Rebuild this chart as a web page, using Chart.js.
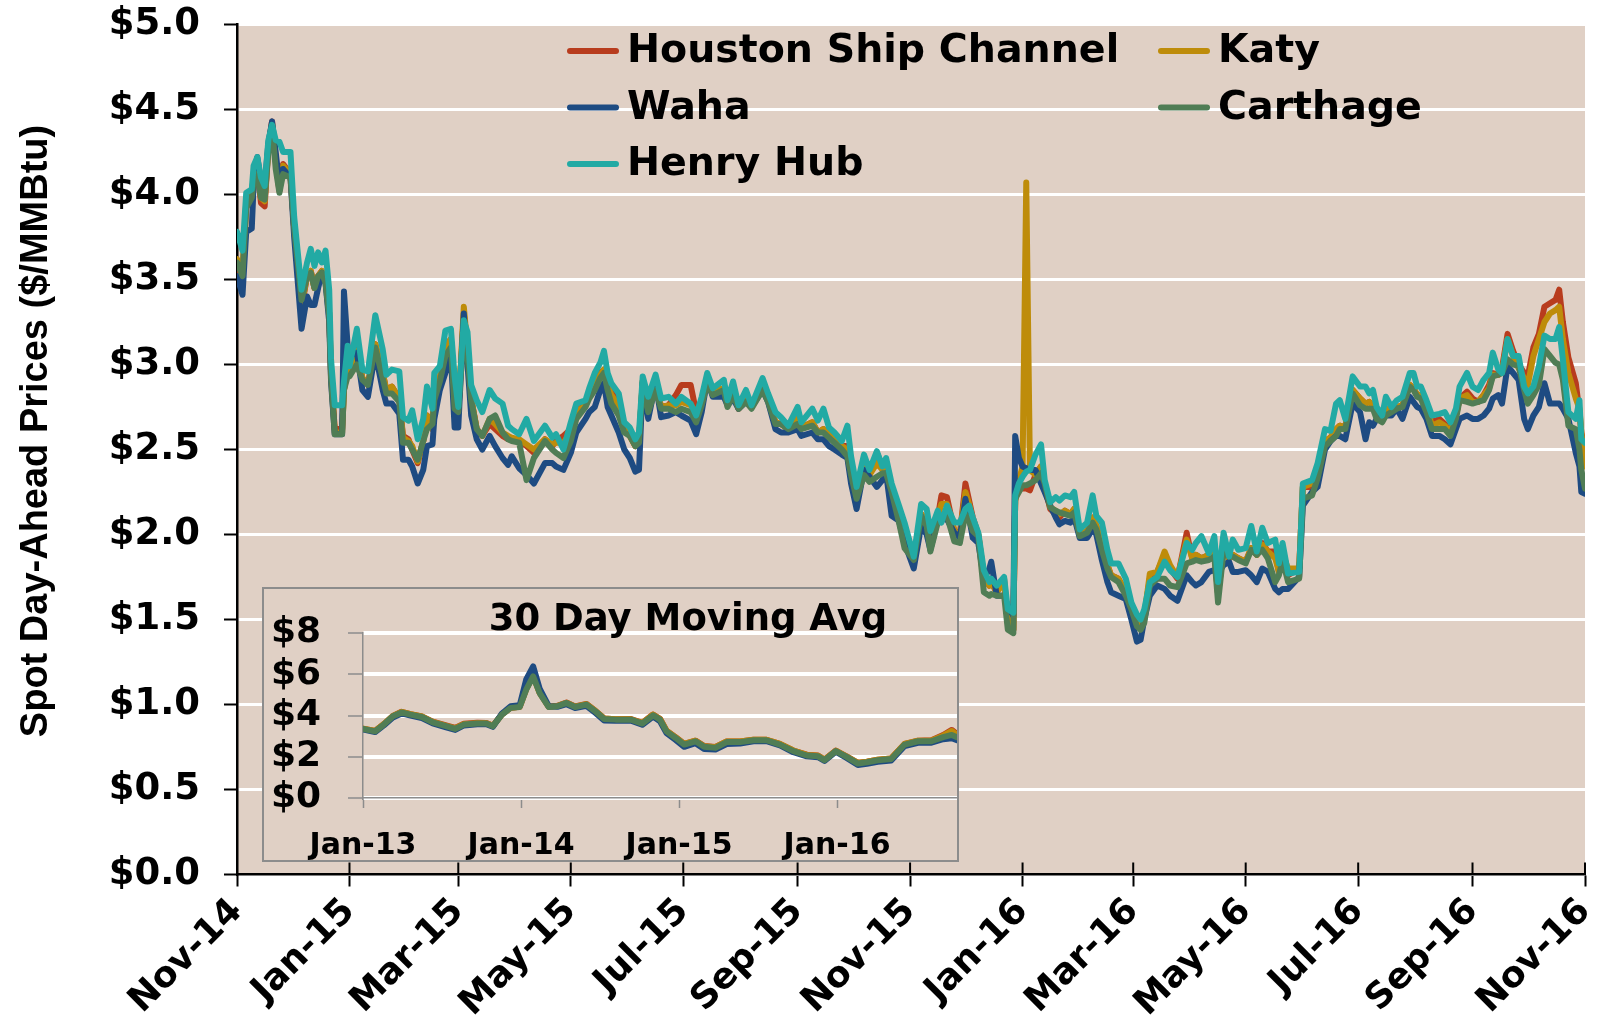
<!DOCTYPE html>
<html>
<head>
<meta charset="utf-8">
<title>Spot Day-Ahead Prices</title>
<script src="https://cdn.jsdelivr.net/npm/chart.js@4.4.1/dist/chart.umd.min.js"></script>
<style>
  html, body { margin: 0; padding: 0; background: #fff; }
  #wrap { position: relative; width: 1600px; height: 1015px; }
  #inset { position: absolute; left: 262px; top: 587px; width: 693px; height: 271px;
           border: 2px solid #8c8c8c; background: #E0D0C5; }
  canvas { display: block; }
</style>
</head>
<body>
<div id="wrap">
  <canvas id="envChart" width="1600" height="1015"></canvas>
  <div id="inset"><canvas id="avgChart" width="693" height="271"></canvas></div>
</div>
<script>
// ---- main chart: days since 1 Nov 2014 ----
const monthDays = [0, 61, 120, 181, 242, 304, 365, 426, 486, 547, 608, 670, 731];
const monthLabels = ['Nov-14', 'Jan-15', 'Mar-15', 'May-15', 'Jul-15', 'Sep-15', 'Nov-15',
                     'Jan-16', 'Mar-16', 'May-16', 'Jul-16', 'Sep-16', 'Nov-16'];

const days = [
  0,3,5,8,9,11,13,15,17,19,
  21,23,25,29,31,35,38,40,42,44,
  46,48,50,51,53,57,58,60,61,65,
  68,71,75,79,81,84,88,90,93,95,
  98,101,103,106,107,110,113,116,118,120,
  123,125,127,130,133,137,140,144,147,149,
  153,157,161,167,171,173,177,181,184,189,
  191,194,197,199,201,203,207,210,213,216,
  218,220,223,227,230,234,238,241,246,249,
  252,255,258,264,266,269,272,276,279,285,
  288,292,295,299,304,306,312,315,318,321,
  324,328,331,333,336,340,343,347,350,352,
  355,359,362,367,371,374,376,380,382,385,
  389,392,395,397,399,402,405,408,409,412,
  416,418,421,422,424,426,428,430,433,436,
  438,441,444,446,449,452,454,457,461,464,
  466,469,472,474,478,482,485,488,490,492,
  495,499,503,506,510,515,518,520,523,527,
  530,532,535,538,540,543,547,550,553,556,
  559,563,565,567,570,576,578,583,586,590,
  593,596,598,601,605,609,612,614,616,618,
  621,623,626,629,632,636,638,640,642,645,
  648,652,655,658,661,663,667,670,673,676,
  679,681,684,686,689,692,695,698,700,703,
  706,709,712,715,717,719,722,726,728,729,
  731
];

const henryHub = [
  3.78,3.67,4.01,4.03,4.17,4.22,4.10,4.05,4.32,4.41,
  4.32,4.31,4.25,4.25,3.87,3.44,3.60,3.68,3.58,3.66,
  3.60,3.67,3.44,3.03,2.76,2.76,2.90,3.11,2.99,3.21,
  2.97,2.96,3.29,3.09,2.94,2.97,2.96,2.69,2.67,2.73,
  2.56,2.68,2.87,2.74,2.95,2.99,3.20,3.21,2.93,2.75,
  3.26,3.19,2.88,2.79,2.72,2.85,2.80,2.77,2.64,2.62,
  2.59,2.68,2.55,2.64,2.57,2.59,2.50,2.66,2.77,2.79,
  2.86,2.95,3.01,3.08,2.95,2.89,2.83,2.66,2.63,2.56,
  2.60,2.93,2.81,2.94,2.80,2.81,2.77,2.81,2.77,2.70,
  2.81,2.95,2.86,2.91,2.79,2.90,2.76,2.85,2.76,2.92,
  2.83,2.72,2.69,2.64,2.75,2.66,2.74,2.67,2.74,2.63,
  2.60,2.55,2.64,2.46,2.28,2.47,2.38,2.49,2.40,2.45,
  2.30,2.17,2.07,1.87,2.18,2.15,2.02,2.14,2.07,2.17,
  2.07,2.07,2.15,2.17,2.10,2.01,1.79,1.72,1.74,1.70,
  1.75,1.56,1.54,2.23,2.30,2.34,2.37,2.38,2.47,2.53,
  2.32,2.19,2.22,2.20,2.23,2.22,2.25,2.03,2.07,2.23,
  2.11,2.07,1.91,1.83,1.83,1.74,1.60,1.53,1.50,1.56,
  1.72,1.75,1.84,1.79,1.75,1.95,1.91,1.95,1.99,1.89,
  1.99,1.72,2.01,1.87,1.97,1.91,1.92,2.05,1.90,2.04,
  1.95,1.97,1.83,1.95,1.77,1.78,2.30,2.32,2.42,2.62,
  2.61,2.77,2.79,2.68,2.93,2.87,2.87,2.83,2.85,2.75,
  2.70,2.81,2.75,2.79,2.81,2.95,2.95,2.87,2.87,2.79,
  2.70,2.71,2.72,2.66,2.74,2.87,2.95,2.87,2.85,2.91,
  2.95,3.07,2.97,2.95,3.15,3.05,3.05,2.87,2.83,2.87,
  2.99,3.17,3.15,3.15,3.22,3.03,2.72,2.68,2.79,2.56,
  2.54
];

const houstonShip = [
  3.55,3.50,3.95,4.00,4.10,4.15,3.95,3.93,4.28,4.43,
  4.20,4.02,4.18,4.12,3.80,3.33,3.52,3.55,3.45,3.52,
  3.55,3.50,3.30,2.95,2.62,2.62,2.85,2.98,2.95,3.10,
  2.92,2.88,3.12,2.95,2.85,2.87,2.80,2.58,2.56,2.50,
  2.42,2.55,2.70,2.62,2.82,2.92,3.10,3.15,2.78,2.72,
  3.30,3.10,2.80,2.62,2.58,2.65,2.62,2.58,2.56,2.56,
  2.55,2.52,2.48,2.56,2.52,2.55,2.58,2.62,2.72,2.77,
  2.82,2.88,2.95,2.97,2.90,2.88,2.76,2.62,2.58,2.52,
  2.55,2.90,2.72,2.88,2.75,2.76,2.82,2.88,2.88,2.72,
  2.78,2.92,2.84,2.86,2.77,2.85,2.74,2.80,2.75,2.88,
  2.80,2.66,2.65,2.62,2.68,2.63,2.66,2.60,2.62,2.58,
  2.56,2.52,2.52,2.40,2.25,2.40,2.35,2.48,2.40,2.40,
  2.26,2.12,2.00,1.86,2.12,2.08,1.95,2.10,2.23,2.22,
  2.02,2.00,2.30,2.20,2.10,2.00,1.75,1.70,1.72,1.66,
  1.74,1.48,1.44,2.20,2.30,2.27,2.27,2.26,2.35,2.40,
  2.28,2.15,2.12,2.10,2.14,2.12,2.15,2.00,2.02,2.10,
  2.05,1.95,1.82,1.76,1.74,1.66,1.57,1.48,1.46,1.52,
  1.74,1.78,1.88,1.80,1.74,2.01,1.86,1.88,1.86,1.88,
  1.90,1.65,1.92,1.86,1.88,1.86,1.84,1.92,1.88,1.95,
  1.90,1.90,1.78,1.92,1.76,1.80,2.28,2.28,2.36,2.55,
  2.57,2.62,2.64,2.63,2.85,2.80,2.77,2.78,2.76,2.70,
  2.68,2.74,2.72,2.75,2.76,2.88,2.86,2.82,2.82,2.75,
  2.66,2.68,2.65,2.60,2.70,2.80,2.84,2.80,2.78,2.82,
  2.88,2.95,2.94,2.98,3.18,3.08,3.00,2.95,2.93,3.10,
  3.18,3.34,3.36,3.38,3.44,3.25,3.04,2.89,2.72,2.60,
  2.50
];

const katy = [
  3.62,3.55,3.96,4.00,4.10,4.15,3.98,3.96,4.28,4.42,
  4.20,4.03,4.17,4.12,3.80,3.35,3.52,3.55,3.45,3.52,
  3.55,3.50,3.30,2.95,2.60,2.60,2.85,2.98,2.95,3.08,
  2.92,2.88,3.12,2.95,2.85,2.87,2.80,2.57,2.55,2.52,
  2.43,2.55,2.70,2.62,2.82,2.92,3.10,3.15,2.78,2.72,
  3.34,3.10,2.80,2.62,2.58,2.68,2.65,2.60,2.58,2.57,
  2.56,2.53,2.50,2.56,2.53,2.54,2.54,2.60,2.72,2.76,
  2.82,2.88,2.94,2.97,2.88,2.82,2.76,2.62,2.58,2.52,
  2.55,2.90,2.72,2.88,2.75,2.76,2.76,2.78,2.76,2.72,
  2.78,2.92,2.84,2.86,2.77,2.85,2.74,2.80,2.75,2.88,
  2.80,2.66,2.65,2.62,2.68,2.63,2.66,2.60,2.62,2.60,
  2.57,2.52,2.50,2.40,2.25,2.40,2.35,2.42,2.38,2.40,
  2.26,2.12,2.00,1.86,2.12,2.08,1.95,2.10,2.18,2.18,
  2.02,2.00,2.25,2.18,2.08,2.00,1.75,1.70,1.72,1.66,
  1.72,1.48,1.44,2.20,2.32,2.40,4.07,2.38,2.35,2.40,
  2.28,2.16,2.14,2.12,2.14,2.12,2.15,2.00,2.02,2.10,
  2.05,1.95,1.82,1.76,1.74,1.66,1.57,1.48,1.46,1.52,
  1.77,1.78,1.90,1.82,1.75,1.97,1.86,1.88,1.86,1.88,
  1.90,1.65,1.92,1.86,1.88,1.86,1.84,1.92,1.88,1.94,
  1.90,1.86,1.78,1.88,1.80,1.80,2.28,2.30,2.36,2.55,
  2.57,2.62,2.64,2.63,2.85,2.80,2.77,2.78,2.76,2.70,
  2.68,2.74,2.72,2.75,2.76,2.88,2.86,2.82,2.82,2.75,
  2.64,2.66,2.64,2.60,2.70,2.80,2.82,2.78,2.78,2.82,
  2.86,2.94,2.94,2.96,3.15,3.05,2.98,2.92,2.88,3.05,
  3.15,3.25,3.30,3.32,3.34,3.15,2.95,2.80,2.74,2.60,
  2.40
];

const waha = [
  3.52,3.41,3.78,3.80,4.05,4.22,4.08,4.05,4.30,4.43,
  4.25,4.05,4.15,4.10,3.75,3.21,3.40,3.35,3.35,3.45,
  3.54,3.48,3.25,2.90,2.59,2.59,3.43,3.11,3.05,3.07,
  2.85,2.81,3.07,2.85,2.77,2.77,2.71,2.44,2.44,2.40,
  2.30,2.38,2.52,2.53,2.68,2.85,2.95,3.05,2.63,2.63,
  3.30,3.00,2.70,2.56,2.50,2.58,2.52,2.45,2.41,2.46,
  2.39,2.35,2.30,2.42,2.42,2.40,2.38,2.48,2.60,2.68,
  2.72,2.75,2.85,2.89,2.75,2.70,2.60,2.50,2.45,2.37,
  2.38,2.89,2.68,2.89,2.69,2.70,2.72,2.70,2.67,2.59,
  2.72,2.91,2.81,2.81,2.76,2.80,2.74,2.78,2.75,2.85,
  2.78,2.62,2.60,2.60,2.62,2.58,2.60,2.56,2.56,2.52,
  2.50,2.47,2.45,2.30,2.15,2.38,2.34,2.28,2.32,2.36,
  2.11,2.08,1.95,1.80,2.05,2.00,1.91,2.09,2.09,2.09,
  2.01,1.98,2.21,2.10,1.98,1.95,1.74,1.80,1.84,1.64,
  1.64,1.58,1.52,2.58,2.45,2.40,2.39,2.38,2.38,2.30,
  2.25,2.17,2.10,2.06,2.08,2.07,2.10,1.98,1.98,2.03,
  2.00,1.85,1.72,1.66,1.64,1.62,1.50,1.37,1.38,1.50,
  1.64,1.70,1.68,1.64,1.61,1.76,1.72,1.70,1.72,1.78,
  1.79,1.77,1.82,1.84,1.78,1.78,1.79,1.76,1.72,1.80,
  1.78,1.68,1.66,1.68,1.68,1.75,2.17,2.25,2.28,2.50,
  2.55,2.58,2.58,2.56,2.77,2.72,2.56,2.66,2.64,2.68,
  2.72,2.70,2.70,2.74,2.68,2.81,2.78,2.75,2.74,2.68,
  2.58,2.58,2.56,2.53,2.62,2.68,2.70,2.68,2.68,2.70,
  2.74,2.80,2.82,2.77,2.99,2.95,2.91,2.68,2.62,2.70,
  2.75,2.89,2.77,2.77,2.77,2.74,2.68,2.48,2.40,2.25,
  2.24
];

const carthage = [
  3.60,3.52,3.92,3.98,4.08,4.12,3.98,3.97,4.25,4.40,
  4.15,4.01,4.12,4.10,3.80,3.38,3.52,3.54,3.45,3.52,
  3.54,3.48,3.28,2.92,2.59,2.59,2.85,2.93,2.93,3.00,
  2.91,2.88,3.10,2.92,2.83,2.83,2.78,2.54,2.54,2.50,
  2.44,2.55,2.62,2.65,2.79,2.90,3.05,3.10,2.74,2.72,
  3.19,3.05,2.79,2.62,2.58,2.68,2.70,2.60,2.56,2.55,
  2.54,2.32,2.45,2.55,2.50,2.48,2.45,2.55,2.68,2.75,
  2.80,2.85,2.92,2.95,2.85,2.77,2.70,2.60,2.58,2.52,
  2.54,2.89,2.72,2.85,2.74,2.74,2.72,2.74,2.72,2.66,
  2.76,2.89,2.82,2.85,2.75,2.82,2.74,2.78,2.74,2.85,
  2.78,2.65,2.65,2.62,2.65,2.62,2.64,2.60,2.60,2.57,
  2.54,2.50,2.46,2.35,2.21,2.35,2.31,2.34,2.36,2.36,
  2.25,2.07,1.92,1.85,2.11,2.05,1.90,2.07,2.10,2.11,
  1.96,1.95,2.12,2.08,2.02,1.99,1.66,1.64,1.65,1.64,
  1.64,1.44,1.42,2.21,2.25,2.29,2.29,2.30,2.32,2.36,
  2.30,2.16,2.14,2.13,2.12,2.11,2.13,1.99,2.01,2.07,
  2.03,1.91,1.80,1.75,1.72,1.64,1.56,1.46,1.44,1.48,
  1.70,1.74,1.74,1.70,1.69,1.83,1.84,1.85,1.84,1.85,
  1.87,1.60,1.90,1.87,1.87,1.85,1.83,1.91,1.88,1.91,
  1.86,1.72,1.76,1.85,1.72,1.74,2.21,2.23,2.33,2.52,
  2.55,2.58,2.62,2.62,2.83,2.76,2.74,2.74,2.74,2.68,
  2.66,2.70,2.72,2.74,2.75,2.87,2.85,2.81,2.80,2.72,
  2.62,2.62,2.62,2.58,2.68,2.79,2.78,2.77,2.78,2.79,
  2.85,2.93,2.94,2.95,3.03,3.00,2.99,2.85,2.77,2.82,
  2.88,3.09,3.05,3.01,3.00,2.91,2.64,2.62,2.50,2.38,
  2.27
];

// ---- inset: 30 day moving average, days since 1 Jan 2013 ----
const avgYearDays = [0, 365, 730, 1095];
const avgYearLabels = ['Jan-13', 'Jan-14', 'Jan-15', 'Jan-16'];
const avgDays = [
  0,28,48,69,89, 110,136,161,192,213, 233,264,285,300,321, 341,362,377,393,408,
  429,449,470,490,516, 537,557,583,619,645, 670,686,701,722,742, 768,788,814,840,871,
  902,932,963,994,1025, 1051,1066,1092,1117,1143, 1164,1189,1220,1251,1282, 1313,1340,1360,1372
];
const avgCarthage = [
  3.35,3.23,3.56,3.96,4.15, 4.04,3.93,3.67,3.48,3.35, 3.56,3.61,3.61,3.48,4.04, 4.37,4.41,5.25,5.90,5.09,
  4.41,4.45,4.61,4.41,4.53, 4.20,3.83,3.80,3.80,3.61, 4.01,3.80,3.23,2.91,2.59, 2.75,2.48,2.43,2.71,2.71,
  2.80,2.80,2.59,2.27,2.06, 2.02,1.83,2.27,1.99,1.67, 1.73,1.83,1.89,2.59,2.75, 2.75,2.95,3.06,2.95
];
const avgWaha = [
  3.33,3.20,3.52,3.90,4.10, 4.00,3.88,3.62,3.42,3.30, 3.52,3.58,3.58,3.45,4.10, 4.45,4.50,5.75,6.38,5.30,
  4.45,4.42,4.55,4.36,4.47, 4.12,3.76,3.74,3.75,3.55, 3.95,3.72,3.15,2.82,2.48, 2.66,2.38,2.35,2.62,2.64,
  2.75,2.76,2.55,2.22,2.02, 1.98,1.80,2.25,1.94,1.60, 1.66,1.76,1.82,2.52,2.68, 2.68,2.85,2.90,2.80
];
const avgHouston = [
  3.36,3.25,3.58,3.98,4.18, 4.06,3.95,3.70,3.52,3.40, 3.60,3.65,3.64,3.50,4.06, 4.38,4.42,5.30,5.95,5.12,
  4.43,4.47,4.63,4.44,4.56, 4.22,3.86,3.82,3.83,3.64, 4.05,3.84,3.26,2.95,2.62, 2.78,2.52,2.47,2.74,2.74,
  2.83,2.82,2.62,2.30,2.10, 2.06,1.86,2.30,2.02,1.70, 1.76,1.86,1.92,2.62,2.78, 2.80,3.05,3.30,3.10
];
const avgKaty = [
  3.36,3.25,3.58,3.98,4.17, 4.06,3.95,3.69,3.50,3.38, 3.58,3.63,3.62,3.50,4.05, 4.38,4.42,5.28,5.92,5.10,
  4.42,4.46,4.62,4.43,4.55, 4.22,3.85,3.82,3.82,3.63, 4.04,3.83,3.26,2.94,2.62, 2.78,2.51,2.46,2.74,2.74,
  2.83,2.82,2.62,2.30,2.09, 2.05,1.86,2.29,2.01,1.70, 1.76,1.86,1.92,2.62,2.78, 2.79,3.02,3.25,3.05
];

const TAN = '#E0D0C5';
const FONT = "'DejaVu Sans', sans-serif";
const COLORS = {
  hsc: '#B83C1E',
  katy: '#BE8C0A',
  waha: '#1E4B82',
  carthage: '#507D55',
  henry: '#22AAA4'
};

function pts(xs, ys) {
  return xs.map((x, i) => ({ x: x, y: ys[i] }));
}

// order: lower number is drawn on top
function line(label, color, data, width, order) {
  return {
    label: label,
    data: data,
    order: order,
    borderColor: color,
    backgroundColor: color,
    borderWidth: width,
    borderJoinStyle: 'round',
    borderCapStyle: 'round',
    pointRadius: 0,
    tension: 0
  };
}

// keep the plot area where the layout padding puts it
function noPadY(axis, w) {
  axis.width = w;
  axis.paddingTop = 0;
  axis.paddingBottom = 0;
}
function noPadX(axis, h) {
  axis.height = h;
  axis.paddingLeft = 0;
  axis.paddingRight = 0;
}

// tan plot area
const areaBg = {
  id: 'areaBg',
  beforeDraw(chart) {
    const { ctx, chartArea: a } = chart;
    ctx.save();
    ctx.fillStyle = TAN;
    ctx.fillRect(a.left, a.top, a.right - a.left, a.bottom - a.top);
    ctx.restore();
  }
};

// x tick marks also cross into the plot, legend inside the plot, y title
const mainDecor = {
  id: 'mainDecor',
  afterDraw(chart) {
    const ctx = chart.ctx;
    const a = chart.chartArea;
    const xs = chart.scales.x;
    ctx.save();
    ctx.strokeStyle = '#000';
    ctx.lineWidth = 2;
    xs.ticks.forEach(t => {
      const px = xs.getPixelForValue(t.value);
      ctx.beginPath();
      ctx.moveTo(px, a.bottom - 12);
      ctx.lineTo(px, a.bottom);
      ctx.stroke();
    });

    // legend, two columns, in dataset order
    ctx.font = 'bold 39.5px ' + FONT;
    ctx.textBaseline = 'middle';
    ctx.textAlign = 'left';
    chart.data.datasets.forEach((ds, i) => {
      const col = i % 2, row = Math.floor(i / 2);
      const x0 = col === 0 ? 570 : 1161;
      const y0 = 51 + row * 56.5;
      ctx.strokeStyle = ds.borderColor;
      ctx.lineWidth = 6;
      ctx.lineCap = 'round';
      ctx.beginPath();
      ctx.moveTo(x0, y0);
      ctx.lineTo(x0 + 46, y0);
      ctx.stroke();
      ctx.fillStyle = '#000';
      ctx.fillText(ds.label, x0 + 57, y0 + 1);
    });

    // y axis title
    ctx.translate(37, 431);
    ctx.rotate(-Math.PI / 2);
    ctx.textAlign = 'center';
    ctx.font = "bold 38px 'Liberation Sans', Arial, sans-serif";
    ctx.fillText('Spot Day-Ahead Prices ($/MMBtu)', 0, 0);
    ctx.restore();
  }
};

const envChart = new Chart(document.getElementById('envChart').getContext('2d'), {
  type: 'line',
  data: {
    datasets: [
      line('Houston Ship Channel', COLORS.hsc, pts(days, houstonShip), 6, 4),
      line('Katy', COLORS.katy, pts(days, katy), 6, 3),
      line('Waha', COLORS.waha, pts(days, waha), 6, 2),
      line('Carthage', COLORS.carthage, pts(days, carthage), 6, 1),
      line('Henry Hub', COLORS.henry, pts(days, henryHub), 6, 0)
    ]
  },
  options: {
    responsive: false,
    animation: false,
    layout: { padding: { top: 24.5, right: 15, left: 0, bottom: 0 } },
    plugins: { legend: { display: false }, tooltip: { enabled: false } },
    scales: {
      x: {
        type: 'linear',
        min: 0,
        max: 731,
        afterBuildTicks: axis => { axis.ticks = monthDays.map(v => ({ value: v })); },
        afterFit: axis => noPadX(axis, 140.5),
        ticks: {
          autoSkip: false,
          minRotation: 45,
          maxRotation: 45,
          padding: 4,
          color: '#000',
          font: { family: FONT, size: 36, weight: 'bold' },
          callback: (v, i) => monthLabels[i]
        },
        grid: { drawOnChartArea: false, tickLength: 12, tickColor: '#000', tickWidth: 2 },
        border: { color: '#000', width: 2.5 }
      },
      y: {
        min: 0,
        max: 5,
        afterFit: axis => noPadY(axis, 237),
        ticks: {
          stepSize: 0.5,
          padding: 24,
          color: '#000',
          font: { family: FONT, size: 37, weight: 'bold' },
          callback: v => '$' + v.toFixed(1)
        },
        grid: { color: '#fff', lineWidth: 3, tickColor: '#000', tickLength: 13, tickWidth: 2 },
        border: { color: '#000', width: 2.5 }
      }
    }
  },
  plugins: [areaBg, mainDecor]
});

// inset title
const avgTitle = {
  id: 'avgTitle',
  afterDraw(chart) {
    const ctx = chart.ctx;
    ctx.save();
    ctx.font = 'bold 37px ' + FONT;
    ctx.fillStyle = '#000';
    ctx.textAlign = 'center';
    ctx.textBaseline = 'middle';
    ctx.fillText('30 Day Moving Avg', 424, 31);
    ctx.restore();
  }
};

const avgChart = new Chart(document.getElementById('avgChart').getContext('2d'), {
  type: 'line',
  data: {
    datasets: [
      line('Houston Ship Channel', COLORS.hsc, pts(avgDays, avgHouston), 6, 3),
      line('Katy', COLORS.katy, pts(avgDays, avgKaty), 6, 2),
      line('Waha', COLORS.waha, pts(avgDays, avgWaha), 6, 1),
      line('Carthage', COLORS.carthage, pts(avgDays, avgCarthage), 6, 0)
    ]
  },
  options: {
    responsive: false,
    animation: false,
    layout: { padding: { top: 44, right: 0, left: 0, bottom: 0 } },
    plugins: { legend: { display: false }, tooltip: { enabled: false } },
    scales: {
      x: {
        type: 'linear',
        min: 0,
        max: 1372,
        afterBuildTicks: axis => { axis.ticks = avgYearDays.map(v => ({ value: v })); },
        afterFit: axis => noPadX(axis, 62),
        ticks: {
          autoSkip: false,
          maxRotation: 0,
          padding: 20,
          color: '#000',
          font: { family: FONT, size: 30, weight: 'bold' },
          callback: (v, i) => avgYearLabels[i]
        },
        grid: { drawOnChartArea: false, tickLength: 10, tickColor: '#8c8c8c', tickWidth: 1.5 },
        border: { color: '#8c8c8c', width: 1.5 }
      },
      y: {
        min: 0,
        max: 8,
        afterFit: axis => noPadY(axis, 99),
        ticks: {
          stepSize: 2,
          autoSkip: false,
          padding: 27,
          color: '#000',
          font: { family: FONT, size: 36, weight: 'bold', lineHeight: 1 },
          callback: v => '$' + v
        },
        grid: { color: '#fff', lineWidth: 4, tickColor: '#8c8c8c', tickLength: 15, tickWidth: 1.5 },
        border: { color: '#8c8c8c', width: 1.5 }
      }
    }
  },
  plugins: [avgTitle]
});
</script>
</body>
</html>
